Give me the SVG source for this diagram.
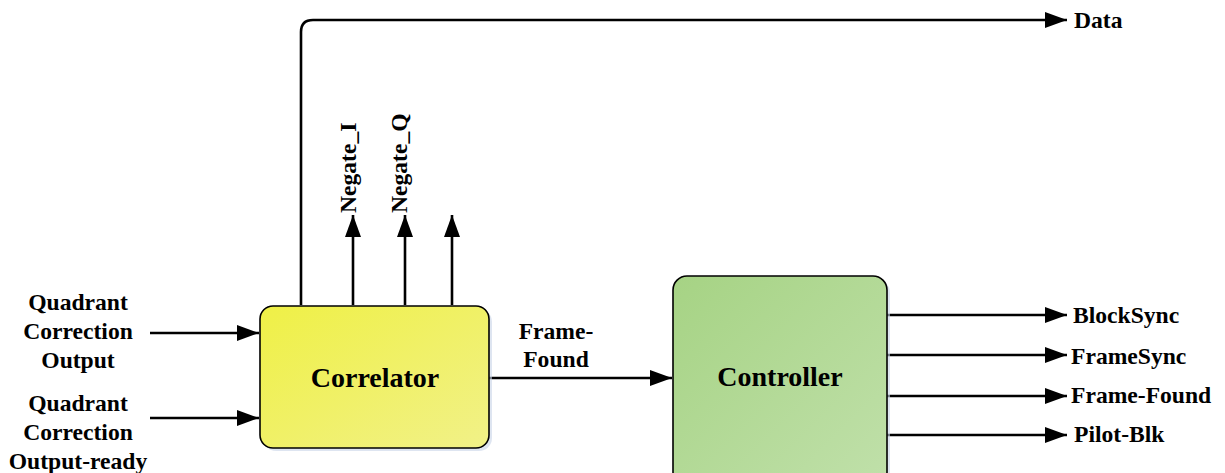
<svg xmlns="http://www.w3.org/2000/svg" width="1225" height="473" viewBox="0 0 1225 473">
<style>
.lbl{font-family:"Liberation Serif","Times New Roman",serif;font-weight:bold;font-size:23.6px;fill:#000}
.big{font-family:"Liberation Serif","Times New Roman",serif;font-weight:bold;font-size:28px;fill:#000}
.ln{stroke:#000;stroke-width:2.6;fill:none}
.box{stroke:#000;stroke-width:1.6}
</style>
<defs>
<linearGradient id="gy" x1="0" y1="0" x2="1" y2="1">
<stop offset="0" stop-color="#eff046"/>
<stop offset="1" stop-color="#f1f188"/>
</linearGradient>
<linearGradient id="gg" x1="0" y1="0" x2="1" y2="1">
<stop offset="0" stop-color="#a6d384"/>
<stop offset="1" stop-color="#c0e0aa"/>
</linearGradient>
<marker id="ah" markerWidth="22" markerHeight="16" refX="22" refY="8" orient="auto" markerUnits="userSpaceOnUse">
<path d="M0,0 L22,8 L0,16 z" fill="#000"/>
</marker>
</defs>
<rect width="1225" height="473" fill="#fff"/>
<g id="connectors">
<path class="ln" d="M301,305 V32 Q301,20 313,20 H1067" marker-end="url(#ah)"/>
<path class="ln" d="M353,305 V215" marker-end="url(#ah)"/>
<path class="ln" d="M405,305 V215" marker-end="url(#ah)"/>
<path class="ln" d="M452,305 V215" marker-end="url(#ah)"/>
<path class="ln" d="M150,333 H259" marker-end="url(#ah)"/>
<path class="ln" d="M150,418 H259" marker-end="url(#ah)"/>
<path class="ln" d="M489,378 H672" marker-end="url(#ah)"/>
<path class="ln" d="M887,315 H1067" marker-end="url(#ah)"/>
<path class="ln" d="M887,355 H1067" marker-end="url(#ah)"/>
<path class="ln" d="M887,396 H1067" marker-end="url(#ah)"/>
<path class="ln" d="M887,435 H1067" marker-end="url(#ah)"/>
</g>
<g id="labels">
<text class="lbl" x="1074" y="28">Data</text>
<text class="lbl" transform="translate(356,213) rotate(-90)">Negate_I</text>
<text class="lbl" transform="translate(407,213) rotate(-90)">Negate_Q</text>
<text class="lbl" text-anchor="middle" x="78" y="310">Quadrant</text>
<text class="lbl" text-anchor="middle" x="78" y="339">Correction</text>
<text class="lbl" text-anchor="middle" x="78" y="368">Output</text>
<text class="lbl" text-anchor="middle" x="78" y="411">Quadrant</text>
<text class="lbl" text-anchor="middle" x="78" y="440">Correction</text>
<text class="lbl" text-anchor="middle" x="78" y="469">Output-ready</text>
<text class="lbl" text-anchor="middle" x="556" y="339">Frame-</text>
<text class="lbl" text-anchor="middle" x="556" y="367">Found</text>
<text class="lbl" x="1073" y="323">BlockSync</text>
<text class="lbl" x="1071" y="364">FrameSync</text>
<text class="lbl" x="1071" y="403">Frame-Found</text>
<text class="lbl" x="1074" y="442">Pilot-Blk</text>
</g>
<g id="correlator">
<rect x="263" y="309" width="229" height="142" rx="13" fill="#c8d4e8" opacity="0.6"/>
<rect class="box" x="260" y="306" width="229" height="142" rx="13" fill="url(#gy)"/>
<text class="big" text-anchor="middle" x="375" y="387">Correlator</text>
</g>
<g id="controller">
<rect x="676" y="279" width="214" height="210" rx="14" fill="#c8d4e8" opacity="0.6"/>
<rect class="box" x="673" y="276" width="214" height="210" rx="14" fill="url(#gg)"/>
<text class="big" text-anchor="middle" x="780" y="386">Controller</text>
</g>
</svg>
